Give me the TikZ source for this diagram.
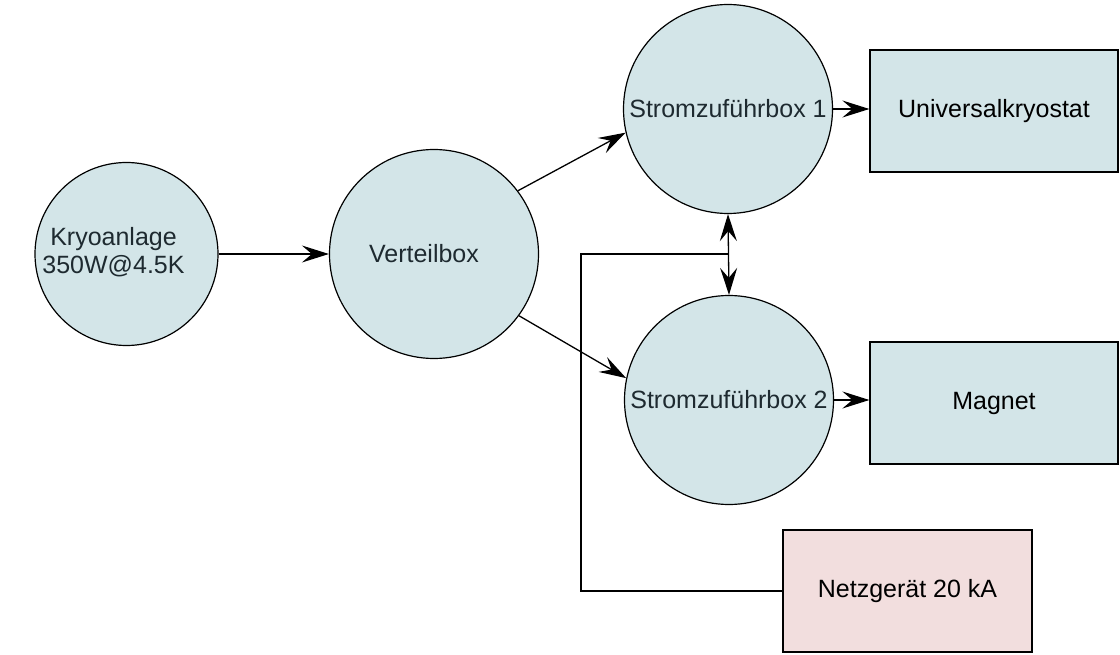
\documentclass[tikz,border=0pt]{standalone}
\usepackage{fontspec}
\setmainfont{Liberation Sans}
\usetikzlibrary{arrows.meta}
\definecolor{nodefill}{RGB}{211,229,232}
\definecolor{supplyfill}{RGB}{242,222,222}
\definecolor{circtext}{RGB}{30,42,48}
\tikzset{
  unit/.style={circle, draw=black, line width=1.2pt, fill=nodefill, inner sep=0pt,
    text=circtext, align=center, font=\fontsize{25}{29}\selectfont},
  device/.style={rectangle, draw=black, line width=1.2pt, fill=nodefill, inner sep=0pt,
    minimum width=248pt, minimum height=122pt, font=\fontsize{25}{29}\selectfont},
  flow/.style={line width=1.3pt, -{Stealth[length=27pt,width=17pt,inset=10pt]}},
  wire/.style={line width=1.3pt}
}
\begin{document}
\begin{tikzpicture}[x=1pt,y=-1pt]
\useasboundingbox (0,0) rectangle (1120,655);
% plant and distribution
\node[unit, minimum size=183pt] (kryo) at (126.5,254)
  {\begin{tabular}{@{}c@{}}Kryoanlage\\[-1pt]350W@4.5K\end{tabular}\hspace*{26pt}};
\node[unit, minimum size=209pt] (vert) at (434,254) {\hspace*{-20pt}Verteilbox};
% current lead boxes
\node[unit, minimum size=209pt] (s1) at (728,109) {Stromzuführbox 1};
\node[unit, minimum size=209pt] (s2) at (729,400) {Stromzuführbox 2};
% consumers
\node[device] (univ) at (994,111) {\raisebox{3pt}{Universalkryostat}};
\node[device] (magnet) at (994,403) {\raisebox{3pt}{Magnet}};
% power supply
\node[device, fill=supplyfill, minimum width=249pt] (netz) at (907.5,591) {Netzgerät 20 kA};
% connections
\draw[flow] (kryo) -- (vert);
\draw[flow] (vert.37) -- (s1.193);
\draw[flow] (vert.-36) -- (s2.168.5);
\draw[flow] (s1.east) -- (s1.east -| univ.west);
\draw[flow] (s2.east) -- (s2.east -| magnet.west);
\draw[wire, {Stealth[length=27pt,width=17pt,inset=10pt]}-{Stealth[length=27pt,width=17pt,inset=10pt]}] (s1.south) -- (s2.north);
\coordinate (junction) at (s1.south |- vert.center);
\coordinate (corner) at (581,254);
\draw[wire] (netz.west) -| (corner) -- (junction);
\end{tikzpicture}
\end{document}
